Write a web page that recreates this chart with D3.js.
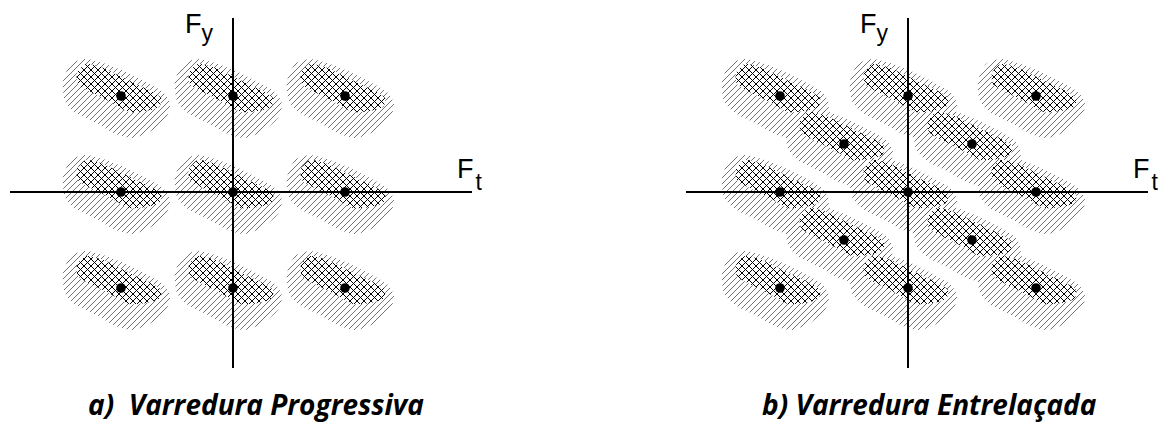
<!DOCTYPE html>
<html><head><meta charset="utf-8">
<script src="https://cdn.jsdelivr.net/npm/d3@7"></script>
<style>html,body{margin:0;padding:0;background:#fff;}svg{display:block;}</style>
</head><body>
<script>
// ---- data ----
const progressiveX = [-1, 0, 1, -1, 0, 1, -1, 0, 1];
const progressiveY = [1, 1, 1, 0, 0, 0, -1, -1, -1];
const interlacedX = [-1, 0, 1, -0.5, 0.5, -1, 0, 1, -0.5, 0.5, -1, 0, 1];
const interlacedY = [1, 1, 1, 0.5, 0.5, 0, 0, 0, -0.5, -0.5, -1, -1, -1];
const captions = ["a)  Varredura Progressiva", "b) Varredura Entrelaçada"];
const axisLabels = [["F", "y"], ["F", "t"]];

// spectral blob outline relative to a sample point (pixels)
const outerShape = [[-50,-32],[-35,-37],[-15,-32],[5,-24],[25,-14],[42,-4],[49,8],[45,22],[30,35],[12,42],[-5,38],[-25,27],[-45,17],[-56,5],[-58,-15]];
const innerShape = [[-44,-23],[-35,-32],[-20,-29],[-3,-21],[15,-12],[30,-5],[40,2],[38,11],[25,15],[8,16],[-5,9],[-20,1],[-34,-6],[-43,-12]];

const W = 1169, H = 425;
const svg = d3.select("body").append("svg").attr("width", W).attr("height", H);
const defs = svg.append("defs");

const hs = 6;
const hp = defs.append("pattern").attr("id","hatch").attr("patternUnits","userSpaceOnUse")
  .attr("width",hs).attr("height",hs);
hp.append("path").attr("d",`M-1,1 L1,-1 M0,${hs} L${hs},0 M${hs-1},${hs+1} L${hs+1},${hs-1}`)
  .attr("stroke","#5a5a5a").attr("stroke-width",0.85).attr("fill","none");

const cs = 7;
const cp = defs.append("pattern").attr("id","cross").attr("patternUnits","userSpaceOnUse")
  .attr("width",cs).attr("height",cs);
cp.append("rect").attr("width",cs).attr("height",cs).attr("fill","#fff");
cp.append("path").attr("d",`M-1,1 L1,-1 M0,${cs} L${cs},0 M${cs-1},${cs+1} L${cs+1},${cs-1} M-1,${cs-1} L1,${cs+1} M0,0 L${cs},${cs} M${cs-1},-1 L${cs+1},1`)
  .attr("stroke","#000").attr("stroke-width",1.0).attr("fill","none");

const blobLine = d3.line().curve(d3.curveCardinalClosed.tension(0.3));
const shapeAt = (shape, cx, cy) => blobLine(shape.map(([dx, dy]) => [cx + dx, cy + dy]));

const panels = [
  {xs: progressiveX, ys: progressiveY, xr:[121,345], axX:[10,472], cap: captions[0], capX: 88},
  {xs: interlacedX, ys: interlacedY, xr:[780,1036], axX:[686,1148], cap: captions[1], capX: 762}
];
const yScale = d3.scaleLinear().domain([-1,1]).range([288,96]);
const axY = [18, 368];

panels.forEach((p) => {
  const xScale = d3.scaleLinear().domain([-1,1]).range(p.xr);
  const pts = p.xs.map((x,i) => ({cx: Math.round(xScale(x)), cy: Math.round(yScale(p.ys[i]))}));
  const g = svg.append("g");
  g.selectAll("path.outer").data(pts).join("path").attr("class","outer")
    .attr("d", d => shapeAt(outerShape, d.cx, d.cy)).attr("fill","url(#hatch)");
  g.selectAll("path.inner").data(pts).join("path").attr("class","inner")
    .attr("d", d => shapeAt(innerShape, d.cx, d.cy)).attr("fill","url(#cross)");

  // axes
  const x0 = Math.round(xScale(0)), y0 = Math.round(yScale(0));
  g.append("line").attr("x1",p.axX[0]).attr("x2",p.axX[1]).attr("y1",y0).attr("y2",y0)
    .attr("stroke","#000").attr("stroke-width",2);
  g.append("line").attr("x1",x0).attr("x2",x0).attr("y1",axY[0]).attr("y2",axY[1])
    .attr("stroke","#000").attr("stroke-width",2);

  // dots
  g.selectAll("circle").data(pts).join("circle")
    .attr("cx", d => d.cx).attr("cy", d => d.cy).attr("r",4.8).attr("fill","#000");

  // labels
  const fy = g.append("text").attr("x", x0 - 48).attr("y", 33)
    .attr("font-family","Liberation Sans, Arial, sans-serif").attr("font-size",27).attr("fill","#000");
  fy.append("tspan").text(axisLabels[0][0]);
  fy.append("tspan").attr("dy",8).attr("font-size",23).text(axisLabels[0][1]);
  const ft = g.append("text").attr("x", p.axX[1] - 15).attr("y", 178)
    .attr("font-family","Liberation Sans, Arial, sans-serif").attr("font-size",27).attr("fill","#000");
  ft.append("tspan").text(axisLabels[1][0]);
  ft.append("tspan").attr("dx",2).attr("dy",12).attr("font-size",23).text(axisLabels[1][1]);

  g.append("text").attr("x", p.capX).attr("y", 415).attr("text-anchor","start")
    .attr("font-family","Open Sans, sans-serif").attr("font-weight","bold").attr("font-style","italic")
    .attr("font-size",28).attr("fill","#000").style("white-space","pre").text(p.cap);
});
</script>
</body></html>
